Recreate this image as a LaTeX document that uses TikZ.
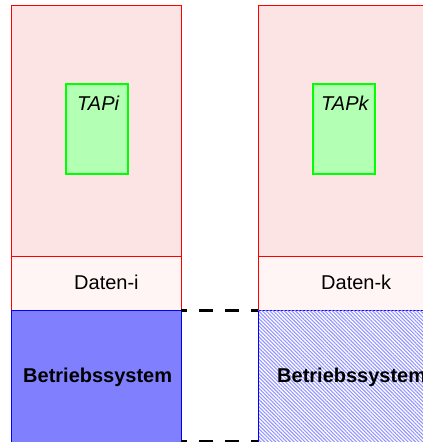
\documentclass[tikz,border=0pt]{standalone}
\usepackage{fontspec}
\setmainfont{Liberation Sans}
\usetikzlibrary{patterns.meta}
\definecolor{procpink}{RGB}{253,228,228}
\definecolor{datapink}{RGB}{255,245,245}
\definecolor{osblue}{RGB}{128,128,255}
\definecolor{hatchblue}{RGB}{150,150,255}
\definecolor{tapgreen}{RGB}{179,255,179}
\definecolor{tapborder}{RGB}{0,255,0}
\begin{document}
\begin{tikzpicture}[x=1pt,y=-1pt,
  box/.style={rectangle, anchor=north west, inner sep=0pt, outer sep=0pt},
  procbox/.style={box, draw=red, fill=procpink, line width=1pt},
  databox/.style={box, draw=red, fill=datapink, line width=1pt},
  tapbox/.style={box, draw=tapborder, fill=tapgreen, line width=1.2pt, minimum width=62pt, minimum height=90pt},
  osbox/.style={box, draw=blue, line width=1pt},
  txt/.style={inner sep=0pt, font=\fontsize{20}{24}\selectfont, anchor=base west},
  gap/.style={black, line width=3pt, dash pattern=on 14pt off 12pt, dash phase=8pt}]
\useasboundingbox (0,0) rectangle (423,442);
% left column
\node[procbox, minimum width=170pt, minimum height=305pt] (proci) at (11,5) {};
\node[databox, minimum width=170pt, minimum height=54pt] (datai) at (11,256) {};
\node[osbox, fill=osblue, minimum width=170pt, minimum height=140pt] (osi) at (11,310.5) {};
\node[tapbox] (tapi) at (66,84) {};
% right column
\node[procbox, minimum width=190pt, minimum height=305pt] (prock) at (258,5) {};
\node[databox, minimum width=190pt, minimum height=54pt] (datak) at (258,256) {};
\node[osbox, fill=white, minimum width=190pt, minimum height=140pt] (osk0) at (258,310.5) {};
\node[box, pattern={Lines[angle=-45, distance=2.6pt, line width=1.1pt]}, pattern color=hatchblue, minimum width=190pt, minimum height=140pt] (osk) at (258,310.5) {};
\draw[blue, line width=1pt] (osk.north west) -- (osk.south west);
\node[tapbox] (tapk) at (313,84) {};
% texts
\node[txt, font=\fontsize{20}{24}\itshape] (ti) at (77,110) {TAPi};
\node[txt, font=\fontsize{20}{24}\itshape] (tk) at (321,110) {TAPk};
\node[txt] (di) at (74,289) {Daten-i};
\node[txt] (dk) at (321,289) {Daten-k};
\node[txt, font=\fontsize{20}{24}\bfseries] (bi) at (23,382) {Betriebssystem};
\node[txt, font=\fontsize{20}{24}\bfseries] (bk) at (277,382) {Betriebssystem};
% dashed connectors between the OS blocks
\draw[gap] (osi.north east) -- (osk.north west);
\coordinate (bl) at (181,441);
\coordinate (br) at (258,441);
\draw[gap] (bl) -- (br);
\end{tikzpicture}
\end{document}
